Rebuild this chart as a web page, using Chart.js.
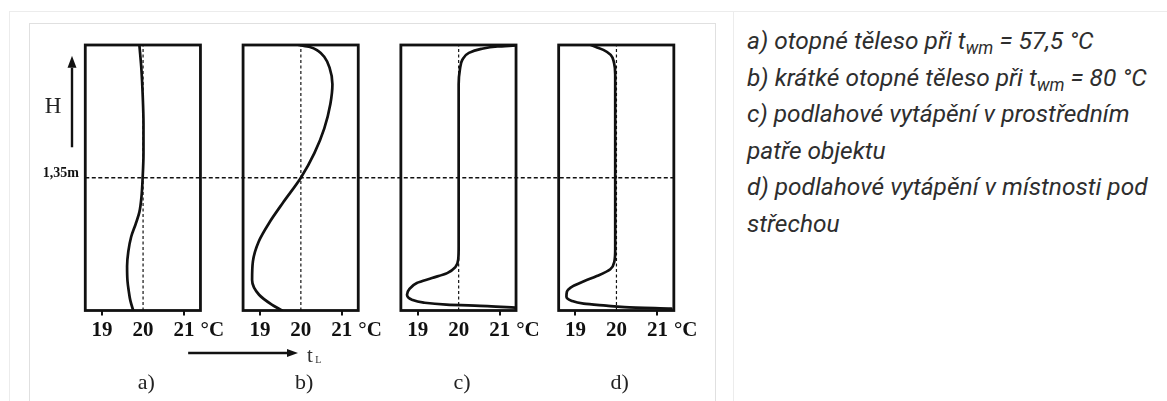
<!DOCTYPE html>
<html lang="cs">
<head>
<meta charset="utf-8">
<title>Teplotní profily</title>
<script src="https://cdn.jsdelivr.net/npm/chart.js@4.4.0/dist/chart.umd.min.js"></script>
<style>
  html, body { margin: 0; padding: 0; background: #fff; }
  body { width: 1167px; height: 401px; overflow: hidden; position: relative; }
  .cell { position: absolute; left: 9px; top: 11px; right: -2px; bottom: -2px;
          border-top: 1px solid #ececec; border-left: 1px solid #ececec; }
  .divider { position: absolute; left: 733px; top: 11px; bottom: 0; border-left: 1px solid #ececec; }
  .frame { position: absolute; left: 29px; top: 23px; width: 685px; height: 400px; border: 1px solid #e0e0e0; }
  #chart { position: absolute; left: 30px; top: 24px; }
  .legend { position: absolute; left: 747px; top: 23px; color: #2e2e2e; white-space: nowrap;
            font: italic 24.5px Roboto, "Noto Sans", sans-serif; line-height: 36.6px; }
  .legend sub { font-size: 0.72em; vertical-align: -0.28em; line-height: 0; }
</style>
</head>
<body>
<div class="cell"></div>
<div class="divider"></div>
<div class="frame"></div>
<canvas id="chart" width="684" height="377"></canvas>
<div class="legend">
  <div>a) otopné těleso při t<sub>wm</sub> = 57,5 °C</div>
  <div>b) krátké otopné těleso při t<sub>wm</sub> = 80 °C</div>
  <div>c) podlahové vytápění v prostředním</div>
  <div>patře objektu</div>
  <div>d) podlahové vytápění v místnosti pod</div>
  <div>střechou</div>
</div>
<script>
// Panels and axes
const PANEL_NAMES = ['a)', 'b)', 'c)', 'd)'];
const PANEL_SHIFT = [0, 3.85, 7.7, 11.55];   // horizontal offset of each panel, in °C
const TEMP_TICKS = [19, 20, 21];
const TEMP_UNIT = '°C';
const BOX_TEMP = [18.59, 21.40];
const ROOM_HEIGHT = [0, 2.7];
const REF_HEIGHT = 1.35;
const REF_LABEL = '1,35m';
const REF_TEMP = 20;
const X_MIN = 18.51;
const X_MAX = 33.93;

// a) otopné těleso při twm = 57,5 °C
const heightsA = [0, 0.1, 0.2, 0.3, 0.45, 0.6, 0.75, 0.88, 1.0, 1.15, 1.35, 1.6, 1.9, 2.2, 2.45, 2.7];
const tempsA   = [19.76, 19.69, 19.65, 19.62, 19.61, 19.64, 19.71, 19.82, 19.91, 19.96, 19.99, 20.01, 20.01, 19.99, 19.96, 19.91];

// b) krátké otopné těleso při twm = 80 °C
const heightsB = [0, 0.06, 0.16, 0.31, 0.5, 0.7, 0.9, 1.1, 1.35, 1.6, 1.85, 2.1, 2.3, 2.47, 2.58, 2.64, 2.68, 2.7];
const tempsB   = [19.54, 19.29, 18.98, 18.81, 18.83, 18.97, 19.24, 19.57, 20.0, 20.33, 20.57, 20.72, 20.77, 20.70, 20.57, 20.42, 20.22, 19.95];

// c) podlahové vytápění v prostředním patře
const heightsC = [0.03, 0.045, 0.06, 0.08, 0.11, 0.16, 0.22, 0.28, 0.33, 0.38, 0.44, 0.52, 0.65, 1.35, 2.3, 2.45, 2.55, 2.62, 2.66, 2.685, 2.695];
const tempsC   = [21.38, 20.7, 19.7, 19.15, 18.86, 18.74, 18.8, 18.98, 19.35, 19.72, 19.92, 19.99, 20.0, 20.0, 20.0, 20.03, 20.09, 20.25, 20.55, 20.95, 21.38];

// d) podlahové vytápění v místnosti pod střechou
const heightsD = [0.02, 0.035, 0.05, 0.07, 0.1, 0.14, 0.19, 0.25, 0.3, 0.35, 0.42, 0.5, 0.62, 1.35, 2.4, 2.52, 2.6, 2.65, 2.68, 2.7];
const tempsD   = [21.34, 20.2, 19.75, 19.2, 18.9, 18.78, 18.79, 18.95, 19.22, 19.52, 19.85, 19.95, 19.97, 19.97, 19.97, 19.94, 19.86, 19.68, 19.5, 19.38];

const INK = '#111';
const SERIF = '"Liberation Serif", "DejaVu Serif", serif';

const curves = [[heightsA, tempsA], [heightsB, tempsB], [heightsC, tempsC], [heightsD, tempsD]];

// Build the datasets
const datasets = [];

// horizontal reference line at 1.35 m across all panels
datasets.push({
    data: [
        { x: BOX_TEMP[0] + PANEL_SHIFT[0], y: REF_HEIGHT },
        { x: BOX_TEMP[1] + PANEL_SHIFT[3], y: REF_HEIGHT }
    ],
    borderColor: INK,
    borderWidth: 1.6,
    borderDash: [4, 2.5],
    tension: 0
});

PANEL_SHIFT.forEach((shift, p) => {
    // vertical reference line at 20 °C
    datasets.push({
        data: [
            { x: REF_TEMP + shift, y: ROOM_HEIGHT[0] },
            { x: REF_TEMP + shift, y: ROOM_HEIGHT[1] }
        ],
        borderColor: INK,
        borderWidth: 1.2,
        borderDash: [3, 2.5],
        tension: 0
    });
    // temperature profile
    const [hs, ts] = curves[p];
    datasets.push({
        data: hs.map((h, i) => ({ x: ts[i] + shift, y: h })),
        borderColor: INK,
        borderWidth: 2.7,
        cubicInterpolationMode: 'monotone',
        borderCapStyle: 'round',
        borderJoinStyle: 'round'
    });
});

// x ticks: 19, 20, 21 and the unit for every panel
function buildXTicks() {
    const ticks = [];
    PANEL_SHIFT.forEach(shift => {
        TEMP_TICKS.forEach(t => {
            ticks.push({ value: t + shift, text: String(t), mark: t !== REF_TEMP });
        });
        ticks.push({ value: 21.69 + shift, text: TEMP_UNIT, mark: false });
    });
    return ticks;
}

function drawArrow(ctx, x1, y1, x2, y2, head, half) {
    const ang = Math.atan2(y2 - y1, x2 - x1);
    const bx = x2 - Math.cos(ang) * head;
    const by = y2 - Math.sin(ang) * head;
    ctx.beginPath();
    ctx.moveTo(x1, y1);
    ctx.lineTo(bx, by);
    ctx.stroke();
    ctx.beginPath();
    ctx.moveTo(x2, y2);
    ctx.lineTo(bx + Math.sin(ang) * half, by - Math.cos(ang) * half);
    ctx.lineTo(bx - Math.sin(ang) * half, by + Math.cos(ang) * half);
    ctx.closePath();
    ctx.fill();
}

// Panel frames, arrows and captions
const figurePlugin = {
    id: 'figure',
    beforeDatasetsDraw(chart) {
        const { ctx, scales: { x, y } } = chart;
        ctx.save();
        ctx.strokeStyle = INK;
        ctx.lineWidth = 2.8;
        const top = y.getPixelForValue(ROOM_HEIGHT[1]);
        const bottom = y.getPixelForValue(ROOM_HEIGHT[0]);
        PANEL_SHIFT.forEach(shift => {
            const l = x.getPixelForValue(BOX_TEMP[0] + shift);
            const r = x.getPixelForValue(BOX_TEMP[1] + shift);
            ctx.strokeRect(l, top, r - l, bottom - top);
        });
        ctx.restore();
    },
    afterDraw(chart) {
        const { ctx, chartArea, scales: { x, y } } = chart;
        ctx.save();
        ctx.strokeStyle = INK;
        ctx.fillStyle = INK;
        ctx.lineWidth = 2.4;

        // H arrow
        const ax = chartArea.left - 10;
        drawArrow(ctx, ax, y.getPixelForValue(1.66), ax, y.getPixelForValue(2.59), 12, 4.5);
        ctx.font = '23px ' + SERIF;
        ctx.textAlign = 'center';
        ctx.textBaseline = 'middle';
        ctx.fillStyle = '#222';
        ctx.fillText('H', chartArea.left - 29, y.getPixelForValue(2.07));

        // t_L arrow
        ctx.fillStyle = INK;
        const ty = chartArea.bottom + 42.5;
        drawArrow(ctx, x.getPixelForValue(21.1), ty, x.getPixelForValue(23.78), ty, 11, 4);
        ctx.fillStyle = '#333';
        ctx.textAlign = 'left';
        ctx.textBaseline = 'alphabetic';
        ctx.font = '21px ' + SERIF;
        ctx.fillText('t', x.getPixelForValue(24.0), ty + 9);
        ctx.font = '10px ' + SERIF;
        ctx.fillText('L', x.getPixelForValue(24.2), ty + 10);

        // panel captions
        ctx.fillStyle = '#222';
        ctx.font = '22px ' + SERIF;
        ctx.textAlign = 'center';
        ctx.textBaseline = 'middle';
        PANEL_SHIFT.forEach((shift, p) => {
            ctx.fillText(PANEL_NAMES[p], x.getPixelForValue(20.08 + shift), chartArea.bottom + 73);
        });
        ctx.restore();
    }
};

new Chart(document.getElementById('chart').getContext('2d'), {
    type: 'line',
    data: { datasets: datasets },
    plugins: [figurePlugin],
    options: {
        responsive: false,
        animation: false,
        indexAxis: 'y',
        layout: { padding: { top: 21, right: 0, bottom: 0, left: 0 } },
        elements: { point: { radius: 0, hoverRadius: 0 } },
        plugins: {
            legend: { display: false },
            tooltip: { enabled: false }
        },
        events: [],
        scales: {
            x: {
                type: 'linear',
                position: 'bottom',
                min: X_MIN,
                max: X_MAX,
                border: { display: false },
                grid: {
                    drawOnChartArea: false,
                    drawTicks: true,
                    tickLength: 5,
                    lineWidth: 2,
                    color: c => (c.tick && c.tick.mark) ? INK : 'rgba(0,0,0,0)'
                },
                afterBuildTicks: s => { s.ticks = buildXTicks(); },
                afterFit: s => { s.height = 90.5; },
                ticks: {
                    autoSkip: false,
                    maxRotation: 0,
                    minRotation: 0,
                    padding: 2,
                    color: INK,
                    font: { family: SERIF, weight: 'bold', size: 21 },
                    callback: (v, i, t) => t[i].text
                }
            },
            y: {
                type: 'linear',
                position: 'left',
                min: ROOM_HEIGHT[0],
                max: ROOM_HEIGHT[1],
                border: { display: false },
                grid: { display: false, drawTicks: false },
                afterBuildTicks: s => { s.ticks = [{ value: REF_HEIGHT }]; },
                afterFit: s => { s.width = 52; },
                ticks: {
                    padding: 3,
                    labelOffset: -4,
                    color: INK,
                    font: { family: SERIF, weight: 'bold', size: 14 },
                    callback: () => REF_LABEL
                }
            }
        }
    }
});
</script>
</body>
</html>
